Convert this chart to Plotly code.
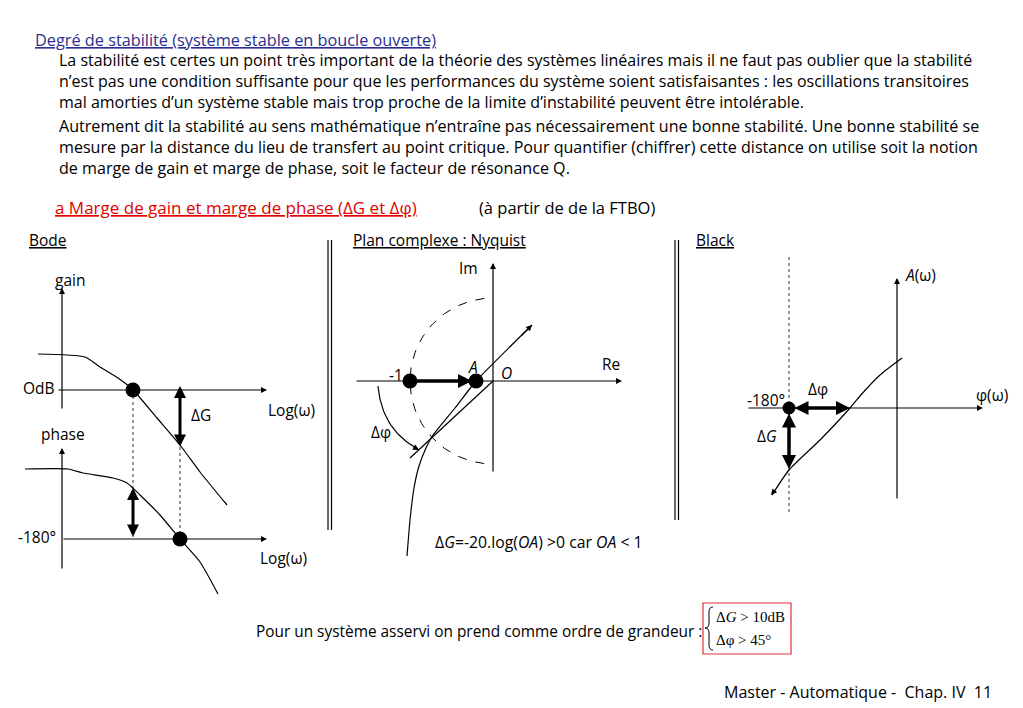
import numpy as np
import plotly.graph_objects as go

# ---------------- data (pixel space 1023x708) ----------------
title_text = "Degré de stabilité (système stable en boucle ouverte)"
para1 = [
    "La stabilité est certes un point très important de la théorie des systèmes linéaires mais il ne faut pas oublier que la stabilité",
    "n’est pas une condition suffisante pour que les performances du système soient satisfaisantes : les oscillations transitoires",
    "mal amorties d’un système stable mais trop proche de la limite d’instabilité peuvent être intolérable.",
]
para2 = [
    "Autrement dit la stabilité au sens mathématique n’entraîne pas nécessairement une bonne stabilité. Une bonne stabilité se",
    "mesure par la distance du lieu de transfert au point critique. Pour quantifier (chiffrer) cette distance on utilise soit la notion",
    "de marge de gain et marge de phase, soit le facteur de résonance Q.",
]
section_text = "a Marge de gain et marge de phase (ΔG et Δφ)"
section_note = "(à partir de de la FTBO)"
panel_titles = ["Bode", "Plan complexe : Nyquist", "Black"]
bottom_text = "Pour un système asservi on prend comme ordre de grandeur :"
criteria = ["Δ<i>G</i> > 10dB", "Δφ > 45°"]
footer_text = "Master - Automatique -  Chap. IV  11"

# Bode gain curve
bode_gain_x = [38, 85, 100, 118, 133, 157, 180, 200, 227]
bode_gain_y = [354, 357, 367, 378, 390, 418, 445, 472, 505]
# Bode phase curve
bode_phase_x = [25, 68, 83, 113, 127, 140, 160, 180, 200, 218]
bode_phase_y = [469, 469, 473, 478, 483, 495, 515, 539, 562, 594]
# Nyquist curve
nyq_x = [407, 410, 414, 419, 426, 433, 455, 476, 532]
nyq_y = [556, 520, 488, 466, 448, 435, 408, 381, 325]
# Black curve
black_x = [902, 880, 860, 850, 820, 789, 772]
black_y = [358, 375, 396, 408, 440, 470, 495]

FONT = "Open Sans"
SERIF = "Liberation Serif"
BLACK = "#000000"
LBL = 15.5

fig = go.Figure()
ann = []
shapes = []


def text(x, y, s, size=LBL, color=BLACK, family=FONT, anchor="left"):
    ann.append(dict(x=x, y=y, xref="x", yref="y", text=s, showarrow=False,
                    xanchor=anchor, yanchor="middle", align="left",
                    font=dict(size=size, color=color, family=family)))


def arrow(x0, y0, x1, y1, width=1.2, both=False, size=1.0, head=2):
    ann.append(dict(x=x1, y=y1, ax=x0, ay=y0, xref="x", yref="y", axref="x", ayref="y",
                    text="", showarrow=True, arrowhead=head, startarrowhead=head,
                    arrowsize=size, startarrowsize=size,
                    arrowwidth=width, arrowcolor=BLACK,
                    arrowside="end+start" if both else "end"))


def line(x0, y0, x1, y1, width=1.2, dash="solid"):
    shapes.append(dict(type="line", x0=x0, y0=y0, x1=x1, y1=y1, xref="x", yref="y",
                       line=dict(color=BLACK, width=width, dash=dash)))


def curve(xs, ys, width=1.2, smoothing=0.6):
    fig.add_trace(go.Scatter(x=xs, y=ys, mode="lines",
                             line=dict(color=BLACK, width=width, shape="spline", smoothing=smoothing),
                             hoverinfo="skip", showlegend=False))


def dots(xs, ys, size=15):
    fig.add_trace(go.Scatter(x=xs, y=ys, mode="markers", marker=dict(color=BLACK, size=size),
                             hoverinfo="skip", showlegend=False))


# ---------------- texts ----------------
text(33, 40, "<u>" + title_text + "</u>", size=16.3, color="#2B2F8F")
text(57, 80.5, "<br>".join(para1), size=16)
text(57, 147, "<br>".join(para2), size=16.1)
text(53, 207, "<u>" + section_text + "</u>", size=17, color="#E00000")
text(477, 207, section_note, size=16.5)
text(27, 240, "<u>" + panel_titles[0] + "</u>", size=LBL)
text(351, 240, "<u>" + panel_titles[1] + "</u>", size=LBL)
text(694, 240, "<u>" + panel_titles[2] + "</u>", size=LBL)

# panel separators (double lines)
for xs in (328, 331.5):
    line(xs, 240, xs, 530, width=1.2)
for xs in (675, 678.5):
    line(xs, 240, xs, 520, width=1.2)

# ---------------- Bode ----------------
arrow(62, 410, 62, 288)
text(53, 280, "gain")
arrow(57, 390, 267, 390)
text(21, 388, "OdB")
text(266, 410, "Log(ω)")
curve(bode_gain_x, bode_gain_y)
arrow(62, 570, 62, 448)
text(39, 434, "phase")
arrow(62, 539, 267, 539)
text(16, 537, "-180°")
text(258, 558, "Log(ω)")
curve(bode_phase_x, bode_phase_y)
line(133, 390, 133, 539, width=0.8, dash="dot")
line(180, 447, 180, 539, width=0.8, dash="dot")
arrow(180, 448, 180, 386, width=3, both=True, size=0.8)
text(189, 415, "ΔG")
arrow(133, 538, 133, 488, width=3, both=True, size=0.8)
dots([133, 180], [390, 539])

# ---------------- Nyquist ----------------
arrow(493, 473, 493, 263)
text(457, 268, "Im")
arrow(355, 381, 622, 381)
text(600, 364, "Re")
text(387, 375, "-1")
text(466, 367, "<i>A</i>")
text(499, 373, "<i>O</i>")
ang = np.linspace(np.deg2rad(96), np.deg2rad(264), 80)
fig.add_trace(go.Scatter(x=493 + 83 * np.cos(ang), y=381 - 83 * np.sin(ang), mode="lines",
                         line=dict(color=BLACK, width=1, dash="dash"), hoverinfo="skip", showlegend=False))
line(493, 381, 410, 458, width=1.2)
curve(nyq_x, nyq_y, smoothing=0.4)
arrow(520, 337, 532, 325)
arrow(410, 381, 472, 381, width=3.5, size=0.8)
dq = np.linspace(0, 1, 30)
arc_x = (1 - dq) ** 2 * 378 + 2 * (1 - dq) * dq * 382 + dq ** 2 * 418
arc_y = (1 - dq) ** 2 * 386 + 2 * (1 - dq) * dq * 430 + dq ** 2 * 449
fig.add_trace(go.Scatter(x=arc_x, y=arc_y, mode="lines", line=dict(color=BLACK, width=1.2),
                         hoverinfo="skip", showlegend=False))
arrow(412, 446, 419, 450)
text(369, 432, "Δφ")
dots([410, 476], [381, 381])
text(433, 542, "Δ<i>G</i>=-20.log(<i>OA</i>) >0 car <i>OA</i> < 1", size=15.8)

# ---------------- Black ----------------
line(789, 257, 789, 515, width=0.8, dash="dot")
arrow(897, 500, 897, 278)
text(903, 275, "<i>A</i>(ω)")
arrow(747, 408, 983, 408)
text(974, 395, "φ(ω)")
text(745, 400, "-180°")
curve(black_x, black_y)
arrow(776, 489, 771, 495)
arrow(793, 408, 850, 408, width=3.5, both=True, size=0.8)
text(806, 389, "Δφ")
arrow(789, 412, 789, 469, width=3.5, both=True, size=0.8)
text(755, 436, "Δ<i>G</i>")
dots([789], [408], size=13)

# ---------------- bottom ----------------
text(254, 631, bottom_text, size=15.4)
shapes.append(dict(type="rect", x0=703, y0=603, x1=791, y1=654, xref="x", yref="y",
                   line=dict(color="#E0303A", width=1.2)))
shapes.append(dict(type="path", xref="x", yref="y",
                   path="M 713 607 Q 709 607 709 612 L 709 623 Q 709 628 705 628 "
                        "Q 709 628 709 633 L 709 645 Q 709 650 713 650",
                   line=dict(color=BLACK, width=1)))
text(714, 617, criteria[0], size=15, family=SERIF)
text(714, 640, criteria[1], size=15, family=SERIF)
text(722, 692, footer_text, size=16)

# the page body has an 8 px margin: shift the ranges so that pixels match the window
fig.update_layout(
    width=1015, height=700, autosize=False,
    margin=dict(l=0, r=0, t=0, b=0),
    paper_bgcolor="white", plot_bgcolor="white",
    xaxis=dict(range=[8, 1023], visible=False, fixedrange=True),
    yaxis=dict(range=[708, 8], visible=False, fixedrange=True),
    annotations=ann, shapes=shapes, showlegend=False,
)
fig.write_html("out.html")
